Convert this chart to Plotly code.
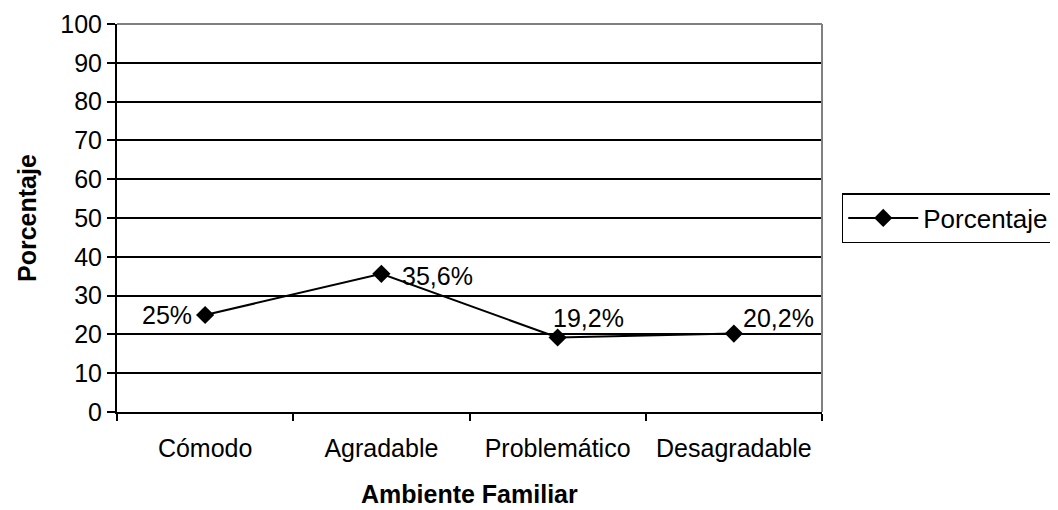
import plotly.graph_objects as go

categories = ["Cómodo", "Agradable", "Problemático", "Desagradable"]
values = [25, 35.6, 19.2, 20.2]
y_ticks = [0, 10, 20, 30, 40, 50, 60, 70, 80, 90, 100]
series_name = "Porcentaje"
x_title = "Ambiente Familiar"
y_title = "Porcentaje"

labels = [(f"{v:g}%").replace(".", ",") for v in values]

FONT = "Liberation Sans, Arial, sans-serif"
FS = 25

fig = go.Figure()
fig.add_trace(go.Scatter(
    x=categories, y=values, mode="lines+markers", name=series_name,
    line=dict(color="black", width=2),
    marker=dict(symbol="diamond", size=14, color="black"),
    cliponaxis=False,
))

# data label placement (styling only)
label_style = [
    dict(xanchor="right", yanchor="middle", xshift=-11, yshift=0),
    dict(xanchor="left", yanchor="middle", xshift=19, yshift=-2),
    dict(xanchor="left", yanchor="bottom", xshift=-7, yshift=4),
    dict(xanchor="left", yanchor="bottom", xshift=7, yshift=0),
]
annotations = []
for c, v, t, st in zip(categories, values, labels, label_style):
    annotations.append(dict(x=c, y=v, xref="x", yref="y", text=t, showarrow=False,
                            font=dict(family=FONT, size=FS, color="black"), **st))

annotations.append(dict(x=0.5, y=0, xref="paper", yref="paper", text=f"<b>{x_title}</b>",
                        showarrow=False, xanchor="center", yanchor="middle", yshift=-82,
                        font=dict(family=FONT, size=FS, color="black")))
annotations.append(dict(x=0, y=0.5, xref="paper", yref="paper", text=f"<b>{y_title}</b>",
                        showarrow=False, xanchor="center", yanchor="middle", xshift=-90,
                        textangle=-90, font=dict(family=FONT, size=FS, color="black")))

fig.update_layout(
    width=1050, height=502,
    margin=dict(l=109, r=236, t=16, b=98, autoexpand=False),
    plot_bgcolor="white", paper_bgcolor="white",
    font=dict(family=FONT, size=FS, color="black"),
    showlegend=True,
    legend=dict(x=1.028, xanchor="left", y=0.5, yanchor="middle",
                bordercolor="black", borderwidth=1.5, bgcolor="white", itemwidth=70,
                font=dict(family=FONT, size=26, color="black")),
    annotations=annotations,
    xaxis=dict(
        type="category", range=[-0.5, 3.5], showgrid=False,
        showline=True, linecolor="black", linewidth=2,
        ticks="outside", tickson="boundaries", ticklen=7, tickwidth=1.5, tickcolor="black",
        tickfont=dict(family=FONT, size=FS), ticklabelstandoff=13,
    ),
    yaxis=dict(
        range=[0, 100], tickvals=y_ticks, showgrid=True, gridcolor="black", gridwidth=1.5,
        showline=True, linecolor="black", linewidth=2, zeroline=False,
        ticks="outside", ticklen=8, tickwidth=1.5, tickcolor="black",
        tickfont=dict(family=FONT, size=FS),
    ),
    shapes=[
        dict(type="line", xref="paper", yref="paper", x0=0, x1=1, y0=1, y1=1,
             line=dict(color="#808080", width=2), layer="above"),
        dict(type="line", xref="paper", yref="paper", x0=1, x1=1, y0=0, y1=1,
             line=dict(color="#808080", width=2), layer="above"),
    ],
)
fig.write_html("out.html")
